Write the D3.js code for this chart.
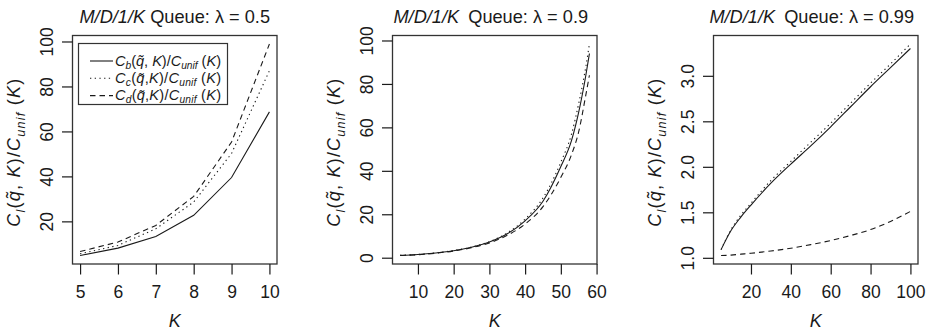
<!DOCTYPE html>
<html>
<head>
<meta charset="utf-8">
<script src="https://cdn.jsdelivr.net/npm/d3@7"></script>
<style>
  html, body { margin: 0; padding: 0; background: #fff; }
  svg { display: block; font-family: "Liberation Sans", Arial, Helvetica, sans-serif; }
</style>
</head>
<body>
<svg id="chart" width="929" height="335"></svg>
<script>
// ---- data -------------------------------------------------------------
// Panel 1: lambda = 0.5
const K1 = [5, 6, 7, 8, 9, 10];
const cb1 = [4.8, 8.1, 13.3, 22.7, 39.5, 68.7];
const cc1 = [5.6, 9.3, 16.7, 28.6, 50.2, 87.0];
const cd1 = [6.6, 10.8, 18.2, 31.1, 55.3, 98.9];

// Panel 2: lambda = 0.9
const K2 = [5, 10, 15, 20, 25, 30, 35, 40, 45, 50, 53, 55, 57, 58];
const cb2 = [1.1, 1.5, 2.2, 3.2, 4.8, 7.2, 11.0, 17.0, 26.0, 42.0, 54.0, 67.0, 84.0, 94.0];
const cc2 = [1.1, 1.5, 2.2, 3.3, 4.9, 7.4, 11.4, 17.8, 27.5, 44.0, 57.0, 71.0, 88.0, 98.4];
const cd2 = [1.0, 1.4, 2.1, 3.1, 4.6, 6.8, 10.3, 15.5, 23.5, 37.0, 47.5, 58.0, 75.0, 84.0];

// Panel 3: lambda = 0.99
const K3 = [5, 10, 15, 20, 30, 40, 50, 60, 70, 80, 90, 100];
const cb3 = [1.09, 1.30, 1.45, 1.58, 1.82, 2.03, 2.23, 2.44, 2.66, 2.88, 3.09, 3.30];
const cc3 = [1.09, 1.31, 1.47, 1.60, 1.85, 2.06, 2.27, 2.48, 2.70, 2.92, 3.13, 3.35];
const cd3 = [1.025, 1.03, 1.04, 1.05, 1.075, 1.105, 1.145, 1.19, 1.245, 1.31, 1.40, 1.51];

// Tick values
const xTicks1 = [5, 6, 7, 8, 9, 10];
const yTicks1 = [20, 40, 60, 80, 100];
const xTicks2 = [10, 20, 30, 40, 50, 60];
const yTicks2 = [0, 20, 40, 60, 80, 100];
const xTicks3 = [20, 40, 60, 80, 100];
const yTicks3 = [1.0, 1.5, 2.0, 2.5, 3.0];

const lambdas = ["0.5", "0.9", "0.99"];

// ---- layout -----------------------------------------------------------
const panelLeft = [72.5, 392.5, 713.5];
const panelW = 204.5;
const plotTop = 35.5, plotBottom = 264;
const fs = 17.5;          // tick / axis font size
const titleFs = 18.2;
const ink = "#1a1a1a";
const dashes = { solid: null, dotted: "1.3,3.4", dashed: "5.5,4" };

const svg = d3.select("#chart");

// R-style axis range: data extent widened by 4% on each side
function rRange(vals) {
  const [lo, hi] = d3.extent(vals);
  const pad = (hi - lo) * 0.04;
  return [lo - pad, hi + pad];
}

// Append a sequence of text runs (italic / subscript) to a text node
function richText(textSel, parts, size, drop) {
  parts.forEach(p => {
    const ts = textSel.append("tspan").text(p.t);
    if (p.i) ts.attr("font-style", "italic");
    if (p.sub) {
      ts.attr("font-size", size * 0.7).attr("dy", size * drop);
    } else if (p.after) {
      ts.attr("dy", -size * drop);
    }
  });
}

function ratioLabel(sub, spaced) {
  return [
    { t: "C", i: true },
    { t: sub, i: true, sub: true },
    { t: "(", after: true },
    { t: "q\u0303", i: true },
    { t: spaced ? ", " : "," },
    { t: "K", i: true },
    { t: ")/" },
    { t: "C", i: true },
    { t: "unif", i: true, sub: true },
    { t: " (", after: true },
    { t: "K", i: true },
    { t: ")" }
  ];
}

const panels = [
  { K: K1, series: [cb1, cc1, cd1], xt: xTicks1, yt: yTicks1, fmt: d3.format("d"), curve: d3.curveLinear },
  { K: K2, series: [cb2, cc2, cd2], xt: xTicks2, yt: yTicks2, fmt: d3.format("d"), curve: d3.curveMonotoneX },
  { K: K3, series: [cb3, cc3, cd3], xt: xTicks3, yt: yTicks3, fmt: d3.format(".1f"), curve: d3.curveMonotoneX }
];
const styles = ["solid", "dotted", "dashed"];

panels.forEach((p, idx) => {
  const x0 = panelLeft[idx], x1 = x0 + panelW;
  const x = d3.scaleLinear().domain(rRange(p.K)).range([x0, x1]);
  const y = d3.scaleLinear().domain(rRange(p.series.flat())).range([plotBottom, plotTop]);

  const g = svg.append("g");

  // lines
  p.series.forEach((vals, si) => {
    const line = d3.line()
      .x((d, i) => x(p.K[i]))
      .y(d => y(d))
      .curve(p.curve);
    g.append("path")
      .attr("d", line(vals))
      .attr("fill", "none")
      .attr("stroke", ink)
      .attr("stroke-width", 1.1)
      .attr("stroke-dasharray", dashes[styles[si]]);
  });

  // plot frame
  g.append("rect")
    .attr("x", x0).attr("y", plotTop)
    .attr("width", panelW).attr("height", plotBottom - plotTop)
    .attr("fill", "none").attr("stroke", "#333").attr("stroke-width", 1.3);

  // x axis
  const xa = g.append("g").attr("transform", `translate(0,${plotBottom})`)
    .call(d3.axisBottom(x).tickValues(p.xt).tickSize(10.5).tickSizeOuter(0).tickFormat(d3.format("d")));
  xa.select(".domain").remove();
  xa.selectAll(".tick line").attr("stroke", ink).attr("stroke-width", 1.2);
  xa.selectAll(".tick text")
    .attr("y", 34.3).attr("dy", null)
    .attr("font-size", fs).attr("font-family", null).attr("fill", ink);

  // y axis
  const ya = g.append("g").attr("transform", `translate(${x0},0)`)
    .call(d3.axisLeft(y).tickValues(p.yt).tickSize(10.5).tickSizeOuter(0).tickFormat(p.fmt));
  ya.select(".domain").remove();
  ya.selectAll(".tick line").attr("stroke", ink).attr("stroke-width", 1.2);
  ya.selectAll(".tick text")
    .attr("x", null).attr("dy", null)
    .attr("transform", "translate(-19.2,0) rotate(-90)")
    .attr("text-anchor", "middle")
    .attr("font-size", fs).attr("font-family", null).attr("fill", ink);

  const cx = (x0 + x1) / 2;

  // x axis title
  svg.append("text")
    .attr("x", cx).attr("y", 326.5)
    .attr("text-anchor", "middle")
    .attr("font-size", fs + 0.5).attr("font-style", "italic").attr("fill", ink)
    .text("K");

  // y axis title
  const yl = svg.append("text")
    .attr("transform", `translate(${x0 - 53},${(plotTop + plotBottom) / 2 + 3}) rotate(-90)`)
    .attr("text-anchor", "middle")
    .attr("font-size", fs + 0.5).attr("fill", ink)
    .attr("textLength", 148).attr("lengthAdjust", "spacing");
  richText(yl, ratioLabel("l", true), fs + 0.5, 0.3);

  // title
  const tt = svg.append("text")
    .attr("x", cx - (idx === 0 ? 0 : 4)).attr("y", 23.3)
    .attr("text-anchor", "middle")
    .attr("font-size", titleFs).attr("fill", ink);
  tt.append("tspan").attr("font-style", "italic").text("M/D/1/K");
  tt.append("tspan").text((idx === 0 ? " " : "\u2002") + "Queue: \u03bb = " + lambdas[idx]);
});

// legend in first panel
const lg = svg.append("g");
const lfs = 14.6;
lg.append("rect")
  .attr("x", 78.5).attr("y", 43.5).attr("width", 149).attr("height", 61)
  .attr("fill", "#fff").attr("stroke", "#333").attr("stroke-width", 1.2);
const legendSubs = ["b", "c", "d"];
legendSubs.forEach((s, i) => {
  const yy = 61 + i * 17.3;
  lg.append("line")
    .attr("x1", 90).attr("x2", 113).attr("y1", yy).attr("y2", yy)
    .attr("stroke", ink).attr("stroke-width", 1.1)
    .attr("stroke-dasharray", dashes[styles[i]]);
  const t = lg.append("text")
    .attr("x", 115).attr("y", yy + 4.8)
    .attr("font-size", lfs).attr("fill", ink)
    .attr("textLength", 106).attr("lengthAdjust", "spacing");
  richText(t, ratioLabel(s, i === 0), lfs, 0.2);
});
</script>
</body>
</html>
